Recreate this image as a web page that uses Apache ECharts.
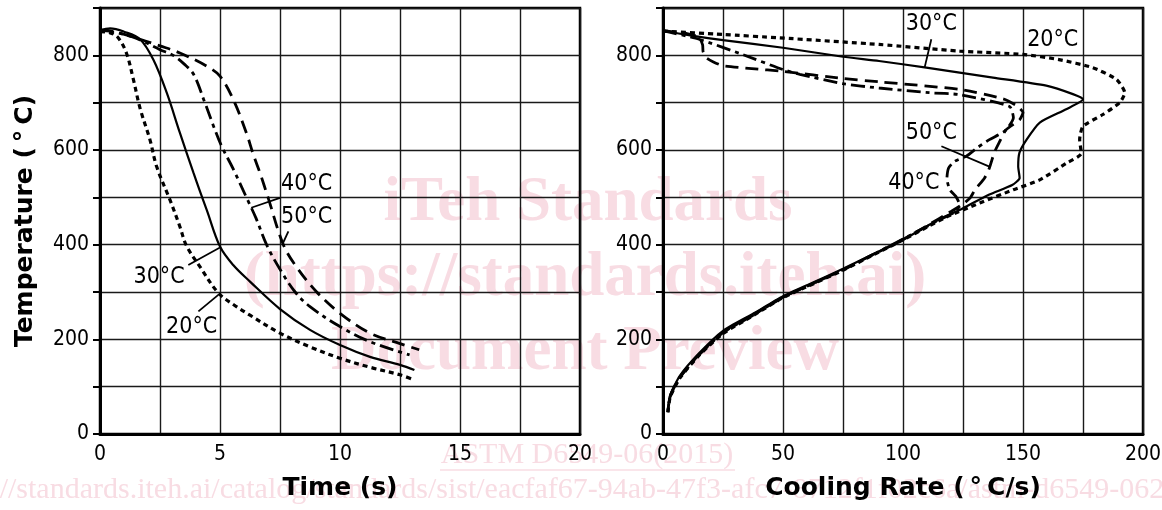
<!DOCTYPE html>
<html>
<head>
<meta charset="utf-8" />
<title>Cooling curves</title>
<script src="https://cdn.jsdelivr.net/npm/echarts/dist/echarts.min.js"></script>
<style>
  html, body { margin: 0; padding: 0; background: #fff; }
  #chart { width: 1162px; height: 510px; }
</style>
</head>
<body>
<div id="chart"></div>
<script>
// ---------- left plot: temperature vs time ----------
const time20 = [0, 0.4, 0.74, 1.1, 1.39, 1.67, 2.08, 2.36, 2.92, 3.33, 3.6, 4.17, 4.93, 5.6, 6.25, 7.5, 8.75, 10, 11.25, 12.5, 13.1];
const temp20 = [850, 848, 838, 805, 749, 688, 622, 565, 494, 438, 398, 353, 298, 272, 251, 213, 184, 160, 141, 125, 114];

const time30 = [0, 0.42, 1, 1.67, 2.22, 2.78, 3.33, 3.9, 4.17, 4.45, 5, 5.55, 6.25, 7.5, 8.75, 10, 11.25, 12.5, 13.1];
const temp30 = [852, 857, 850, 834, 791, 721, 636, 551, 512, 473, 396, 357, 322, 264, 220, 188, 163, 146, 135];

const time40 = [0, 0.5, 1.5, 2.5, 3.05, 3.5, 3.9, 4.37, 4.72, 5.05, 5.55, 6.1, 6.5, 6.94, 7.5, 8.13, 8.75, 10, 11.25, 12.9];
const temp40 = [852, 850, 836, 812, 800, 782, 760, 700, 652, 610, 560, 500, 456, 400, 348, 300, 269, 227, 195, 167];

const time50 = [0, 0.5, 1.67, 2.5, 3.33, 4.45, 5, 5.55, 6.1, 6.39, 6.67, 7, 7.64, 8.2, 9.03, 10, 11.25, 12.5, 13.3];
const temp50 = [854, 851, 834, 820, 805, 777, 756, 707, 636, 590, 551, 500, 400, 352, 300, 255, 213, 191, 178];

// ---------- right plot: temperature vs cooling rate ----------
const rate20 = [0, 25, 48.6, 90, 123.6, 150, 165, 179, 189, 192.4, 190.3, 183.3, 175, 173.6, 174.3, 168, 157, 146, 132, 118, 110, 100, 87.5, 75, 62.5, 50, 37.5, 25, 15, 7, 3, 2];
const rtemp20 = [851, 844, 837, 823, 809, 802, 791, 774, 749, 721, 700, 675, 650, 622, 593, 572, 537, 516, 488, 458, 437, 410, 378, 346, 317, 288, 250, 212, 166, 118, 78, 42];

const rate30 = [0, 12.5, 25, 50, 75, 90, 109.7, 137.5, 159.7, 170.8, 175, 168, 157, 151.5, 148.5, 148, 148.6, 145.5, 136, 125, 115, 97, 87.5, 75, 62.5, 50, 37.5, 25, 15.3, 7, 3, 2];
const rtemp30 = [852, 841, 832, 816, 797, 788, 774, 753, 736, 718, 707, 686, 658, 622, 594, 565, 541, 526, 506, 477, 453, 402, 380, 349, 320, 291, 254, 218, 172, 123, 82, 50];

const rate40 = [0, 15, 33, 50, 57, 75, 90, 111, 123.6, 144.4, 146, 142.4, 136, 131, 126.4, 121.5, 119, 118.3, 119.5, 122, 123.6, 122, 115, 100, 87.5, 75, 62.5, 50, 37.5, 25, 15, 7, 3, 2];
const rtemp40 = [852, 834, 802, 770, 760, 740, 731, 721, 717, 692, 668, 640, 622, 605, 587, 576, 562, 540, 516, 502, 484, 470, 452, 412, 379, 347, 318, 289, 251, 214, 167, 119, 79, 45];

const rate50 = [0, 10, 15, 16.5, 16.7, 18, 21, 25, 37, 50, 75, 90, 123.6, 141.7, 147.2, 150, 148.6, 143, 140, 138, 136, 134, 130, 128, 125, 120, 110, 100, 87.5, 75, 62.5, 50, 37.5, 25, 15, 7, 3, 2];
const rtemp50 = [852, 846, 838, 822, 808, 795, 786, 778, 772, 766, 751, 744, 728, 708, 694, 679, 664, 643, 615, 594, 562, 541, 516, 499, 486, 470, 440, 411, 379, 347, 318, 289, 252, 215, 168, 120, 80, 46];

// ---------- curve labels and leader lines ----------
const leftLabels = ['20°C', '30°C', '40°C', '50°C'];
const leftLabelX = [3.82, 2.46, 8.61, 8.61];
const leftLabelY = [226, 332, 529, 459];
const leftLeaderFrom = [[4.1, 259], [3.68, 357], [7.5, 499], [7.85, 428]];
const leftLeaderTo = [[4.93, 294], [5.0, 394], [6.3, 478], [7.62, 403]];

const rightLabels = ['20°C', '30°C', '40°C', '50°C'];
const rightLabelX = [162.4, 111.8, 104.5, 111.8];
const rightLabelY = [832, 867, 531, 635];
const rightLeaderFrom = [null, [111.8, 834], null, [116, 608]];
const rightLeaderTo = [null, [109, 774], null, [136, 565]];

// axis ticks
const timeLabels = [0, 5, 10, 15, 20];
const rateLabels = [0, 50, 100, 150, 200];
const tempLabels = [0, 200, 400, 600, 800];

const FONT = 'DejaVu Sans Condensed';
const NAME_FONT = 'DejaVu Sans';
const INK = '#000';
const PINK = '#f8dce3';

const DOTTED = [5, 4];
const DASHED = [13, 7];
const DASHDOT = [14, 5, 4, 5];

function zip(xs, ys) {
  return xs.map(function (x, i) { return [x, ys[i]]; });
}

function curve(xs, ys, idx, type, width) {
  return {
    type: 'line',
    xAxisIndex: idx,
    yAxisIndex: idx,
    data: zip(xs, ys),
    showSymbol: false,
    symbol: 'none',
    smooth: idx === 0 ? 0.35 : 0.2,
    silent: true,
    z: 3,
    lineStyle: { color: INK, width: width, type: type }
  };
}

function leader(from, to, idx) {
  return {
    type: 'line',
    xAxisIndex: idx,
    yAxisIndex: idx,
    data: [from, to],
    showSymbol: false,
    symbol: 'none',
    silent: true,
    z: 4,
    lineStyle: { color: INK, width: 1.8, type: 'solid' }
  };
}

function labels(names, xs, ys, idx) {
  return {
    type: 'scatter',
    xAxisIndex: idx,
    yAxisIndex: idx,
    symbolSize: 0,
    silent: true,
    z: 5,
    itemStyle: { color: INK, opacity: 1 },
    label: {
      show: true,
      position: 'inside',
      formatter: '{b}',
      color: INK,
      opacity: 1,
      textBorderWidth: 0,
      fontFamily: FONT,
      fontSize: 23
    },
    data: names.map(function (n, i) { return { name: n, value: [xs[i], ys[i]] }; })
  };
}

function xAxisCfg(idx, max, step, shown, name) {
  return {
    type: 'value', gridIndex: idx, min: 0, max: max, interval: step,
    name: name, nameLocation: 'middle', nameGap: 42,
    nameTextStyle: { fontFamily: NAME_FONT, fontWeight: 'bold', fontSize: 25, color: INK },
    axisLine: { show: true, onZero: false, lineStyle: { color: INK, width: 3 } },
    axisTick: { show: false },
    axisLabel: {
      fontFamily: FONT, fontSize: 21, color: INK, margin: 10,
      formatter: function (v) { return shown.indexOf(v) >= 0 ? String(v) : ''; }
    },
    splitLine: { show: true, lineStyle: { color: '#1a1a1a', width: 1.4 } }
  };
}

function yAxisCfg(idx, name) {
  return {
    type: 'value', gridIndex: idx, min: 0, max: 900, interval: 100,
    name: name, nameLocation: 'middle', nameGap: 62,
    nameTextStyle: { fontFamily: NAME_FONT, fontWeight: 'bold', fontSize: 25, color: INK },
    axisLine: { show: true, onZero: false, lineStyle: { color: INK, width: 3 } },
    axisTick: { show: true, length: 7, lineStyle: { color: INK, width: 2 } },
    axisLabel: {
      fontFamily: FONT, fontSize: 21, color: INK, margin: 11,
      formatter: function (v) { return tempLabels.indexOf(v) >= 0 ? String(v) : ''; }
    },
    splitLine: { show: true, lineStyle: { color: '#1a1a1a', width: 1.4 } }
  };
}

const series = [
  curve(time20, temp20, 0, DOTTED, 3.2),
  curve(time30, temp30, 0, 'solid', 2.2),
  curve(time40, temp40, 0, DASHDOT, 2.8),
  curve(time50, temp50, 0, DASHED, 2.8),
  curve(rate20, rtemp20, 1, DOTTED, 3.2),
  curve(rate30, rtemp30, 1, 'solid', 2.2),
  curve(rate40, rtemp40, 1, DASHDOT, 2.8),
  curve(rate50, rtemp50, 1, DASHED, 2.8),
  labels(leftLabels, leftLabelX, leftLabelY, 0),
  labels(rightLabels, rightLabelX, rightLabelY, 1)
];
leftLeaderFrom.forEach(function (p, i) { series.push(leader(p, leftLeaderTo[i], 0)); });
rightLeaderFrom.forEach(function (p, i) { if (p) series.push(leader(p, rightLeaderTo[i], 1)); });

// watermark of the source document
function mark(text, x, y, size, bold) {
  return {
    type: 'text', x: x, y: y, z: -10, silent: true,
    style: {
      text: text, fill: PINK,
      fontFamily: 'Liberation Serif', fontSize: size, fontWeight: bold ? 'bold' : 'normal',
      align: 'center', verticalAlign: 'middle', textAlign: 'center', textVerticalAlign: 'middle'
    }
  };
}

const chart = echarts.init(document.getElementById('chart'));
chart.setOption({
  backgroundColor: '#fff',
  animation: false,
  grid: [
    { left: 100, top: 8, width: 480, height: 426, show: true, borderColor: INK, borderWidth: 2.5, outerBoundsMode: 'none' },
    { left: 663, top: 8, width: 480, height: 426, show: true, borderColor: INK, borderWidth: 2.5, outerBoundsMode: 'none' }
  ],
  xAxis: [
    xAxisCfg(0, 20, 2.5, timeLabels, 'Time (s)'),
    xAxisCfg(1, 200, 25, rateLabels, 'Cooling Rate (\u2009°\u2009C/s)')
  ],
  yAxis: [
    yAxisCfg(0, 'Temperature (\u2009°\u2009C)'),
    yAxisCfg(1, '')
  ],
  graphic: {
    elements: [
      mark('iTeh Standards', 588, 204, 63, true),
      mark('(https://standards.iteh.ai)', 585, 279, 63, true),
      mark('Document Preview', 585, 353, 63, true),
      mark('ASTM D6549-06(2015)', 587, 455, 30, false),
      {
        type: 'line', z: -10, silent: true,
        shape: { x1: 440, y1: 470, x2: 735, y2: 470 },
        style: { stroke: PINK, lineWidth: 1.5 }
      },
      {
        type: 'text', x: -67, y: 490, z: -10, silent: true,
        style: {
          text: 'https://standards.iteh.ai/catalog/standards/sist/eacfaf67-94ab-47f3-afc7-8712f1f02c6a/astm-d6549-062015',
          fill: PINK, fontFamily: 'Liberation Serif', fontSize: 30,
          align: 'left', verticalAlign: 'middle', textAlign: 'left', textVerticalAlign: 'middle'
        }
      }
    ]
  },
  series: series
});
</script>
</body>
</html>
